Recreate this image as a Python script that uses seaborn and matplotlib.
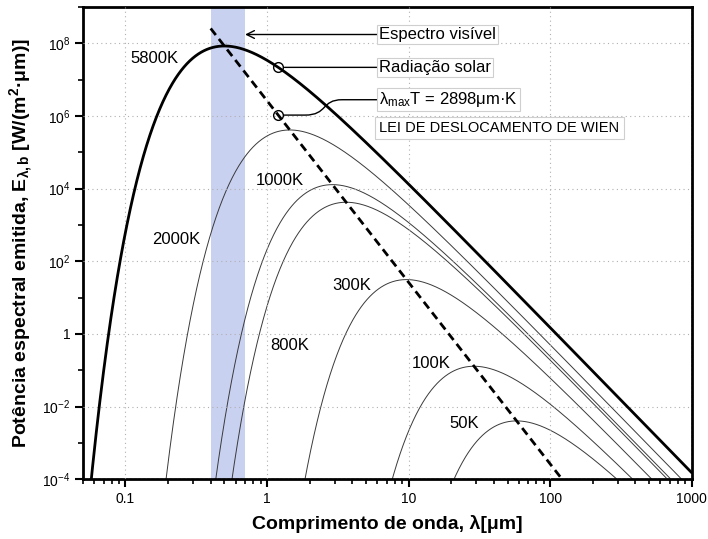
import numpy as np
import pandas as pd
import matplotlib
matplotlib.use("Agg")
import matplotlib.pyplot as plt
from matplotlib.path import Path
from matplotlib.patches import PathPatch
from matplotlib.ticker import LogLocator, FuncFormatter, FixedLocator, NullFormatter
import seaborn as sns

# Blackbody temperatures (K) and their curve labels
temperatures = [5800, 2000, 1000, 800, 300, 100, 50]
curve_labels = ["5800K", "2000K", "1000K", "800K", "300K", "100K", "50K"]
# label anchor points (wavelength in um, emissive power)
label_pos = {
    5800: (0.16, 3.8e7),
    2000: (0.229, 3.9e2),
    1000: (1.23, 1.7e4),
    800: (1.45, 0.47),
    300: (3.97, 22.0),
    100: (14.5, 0.149),
    50: (24.8, 3.5e-3),
}

# Planck radiation constants
C1 = 3.742e8     # W.um^4/m^2
C2 = 1.4388e4    # um.K
wien_const = 2898.0  # um.K

visible_band = (0.4, 0.7)
wien_range = (0.4, 130.0)
sun_marker_lam = 1.2
wien_marker_lam = 1.2

x_ticks = [0.1, 1, 10, 100, 1000]
x_ticklabels = ["0.1", "1", "10", "100", "1000"]
y_major = [1e-4, 1e-2, 1, 1e2, 1e4, 1e6, 1e8]
y_minor = [1e-3, 1e-1, 1e1, 1e3, 1e5, 1e7, 1e9]


def planck(lam, T):
    with np.errstate(over="ignore"):
        return C1 / (lam ** 5 * np.expm1(C2 / (lam * T)))


def wien_peak(lam):
    return C1 / (lam ** 5 * np.expm1(C2 / wien_const))


sns.set_theme(style="ticks")
plt.rcParams["font.family"] = ["Liberation Sans", "DejaVu Sans"]
plt.rcParams["mathtext.fontset"] = "custom"
plt.rcParams["mathtext.rm"] = "Liberation Sans"
plt.rcParams["mathtext.it"] = "Liberation Sans:italic"
plt.rcParams["mathtext.bf"] = "Liberation Sans:bold"
plt.rcParams["mathtext.default"] = "regular"
plt.rcParams["text.color"] = "black"
plt.rcParams["axes.labelcolor"] = "black"
plt.rcParams["xtick.color"] = "black"
plt.rcParams["ytick.color"] = "black"

fig = plt.figure(figsize=(7.08, 5.39), dpi=100)
ax = fig.add_axes([0.117, 0.111, 0.860, 0.876])
ax.set_xscale("log")
ax.set_yscale("log")
ax.set_xlim(0.05, 1000)
ax.set_ylim(1e-4, 1e9)

# visible band
ax.axvspan(*visible_band, color="#c9d1f1", lw=0, zorder=0)

lam = np.logspace(np.log10(0.05), 3, 1500)
rows = []
for T in temperatures:
    E = planck(lam, T)
    keep = E > 1e-6
    rows.append(pd.DataFrame({"lam": lam[keep], "E": E[keep], "T": T}))
df = pd.concat(rows, ignore_index=True)

for T in temperatures:
    sub = df[df["T"] == T]
    thick = T == 5800
    sns.lineplot(data=sub, x="lam", y="E", ax=ax, estimator=None, sort=True,
                 color="black" if thick else "#3a3a3a",
                 lw=2.0 if thick else 0.7, zorder=3 if thick else 2)

# Wien displacement line
lw_ = np.logspace(np.log10(wien_range[0]), np.log10(wien_range[1]), 200)
sns.lineplot(x=lw_, y=wien_peak(lw_), ax=ax, color="black", lw=2.0,
             estimator=None, zorder=4)
ax.lines[-1].set_dashes((3, 1.8))

for T, lab in zip(temperatures, curve_labels):
    x, y = label_pos[T]
    ax.text(x, y, lab, fontsize=12, ha="center", va="center", zorder=5)

box = dict(boxstyle="square,pad=0.12", fc="white", ec="#cfcfcf", lw=0.8)

# visible spectrum arrow
ax.annotate("Espectro visível", xy=(visible_band[1], 1.75e8), xytext=(6.2, 1.75e8),
            fontsize=12, va="center", ha="left", bbox=box,
            arrowprops=dict(arrowstyle="->", color="black", lw=1.0,
                            shrinkA=0, shrinkB=0, mutation_scale=14), zorder=6)

# solar radiation marker
sun_E = planck(sun_marker_lam, 5800)
ax.plot([sun_marker_lam], [sun_E], marker="o", ms=7, mfc="none", mec="black",
        mew=1.0, zorder=6)
ax.annotate("Radiação solar", xy=(sun_marker_lam, sun_E), xytext=(6.2, sun_E),
            fontsize=12, va="center", ha="left", bbox=box,
            arrowprops=dict(arrowstyle="-", color="black", lw=1.0,
                            shrinkA=0, shrinkB=4.5), zorder=6)

# Wien law marker and S-shaped leader
wien_E = wien_peak(wien_marker_lam)
ax.plot([wien_marker_lam], [wien_E], marker="o", ms=7, mfc="none", mec="black",
        mew=1.0, zorder=6)
y_txt = 2.8e6
verts = [(1.30, wien_E), (1.85, wien_E), (2.7, wien_E), (2.4, y_txt), (3.4, y_txt), (6.0, y_txt)]
codes = [Path.MOVETO, Path.LINETO, Path.CURVE4, Path.CURVE4, Path.CURVE4, Path.LINETO]
ax.add_patch(PathPatch(Path(verts, codes), fc="none", ec="black", lw=1.0, zorder=6))
ax.text(6.2, y_txt, "$λ_{max}$T = 2898μm·K", fontsize=12, va="center", ha="left",
        bbox=box, zorder=6)
ax.text(6.2, 4.7e5, "LEI DE DESLOCAMENTO DE WIEN", fontsize=10.5, va="center",
        ha="left", bbox=dict(boxstyle="square,pad=0.3", fc="white", ec="#cfcfcf", lw=0.8),
        zorder=6)

# axes styling
ax.xaxis.set_major_locator(FixedLocator(x_ticks))
ax.xaxis.set_major_formatter(FuncFormatter(lambda v, p: x_ticklabels[x_ticks.index(v)] if v in x_ticks else ""))
ax.xaxis.set_minor_locator(LogLocator(base=10, subs=np.arange(2, 10), numticks=20))
ax.xaxis.set_minor_formatter(NullFormatter())
ax.yaxis.set_major_locator(FixedLocator(y_major))
ax.yaxis.set_minor_locator(FixedLocator(y_minor))
ax.yaxis.set_minor_formatter(NullFormatter())


def yfmt(v, p):
    e = int(round(np.log10(v)))
    return "1" if e == 0 else f"$10^{{{e}}}$"


ax.yaxis.set_major_formatter(FuncFormatter(yfmt))
ax.tick_params(which="major", direction="out", length=6, width=1.5, labelsize=10,
               color="black", labelcolor="black", pad=3)
ax.tick_params(which="minor", direction="out", length=3.5, width=1.2, color="black")
for s in ax.spines.values():
    s.set_visible(True)
    s.set_linewidth(2.0)
    s.set_color("black")
ax.grid(which="major", ls=(0, (1, 3)), color="#b0b0b0", lw=0.8)
ax.set_axisbelow(False)

ax.set_xlabel("Comprimento de onda, λ[μm]", fontsize=14, fontweight="bold", labelpad=7)
ax.set_ylabel(r"Potência espectral emitida, $\mathbf{E_{λ,b}}$ [W/(m$\mathbf{^2}$·μm)]",
              fontsize=14, fontweight="bold", labelpad=5)
ax.set_facecolor("white")
fig.patch.set_facecolor("white")

fig.savefig("out.png", dpi=100)
